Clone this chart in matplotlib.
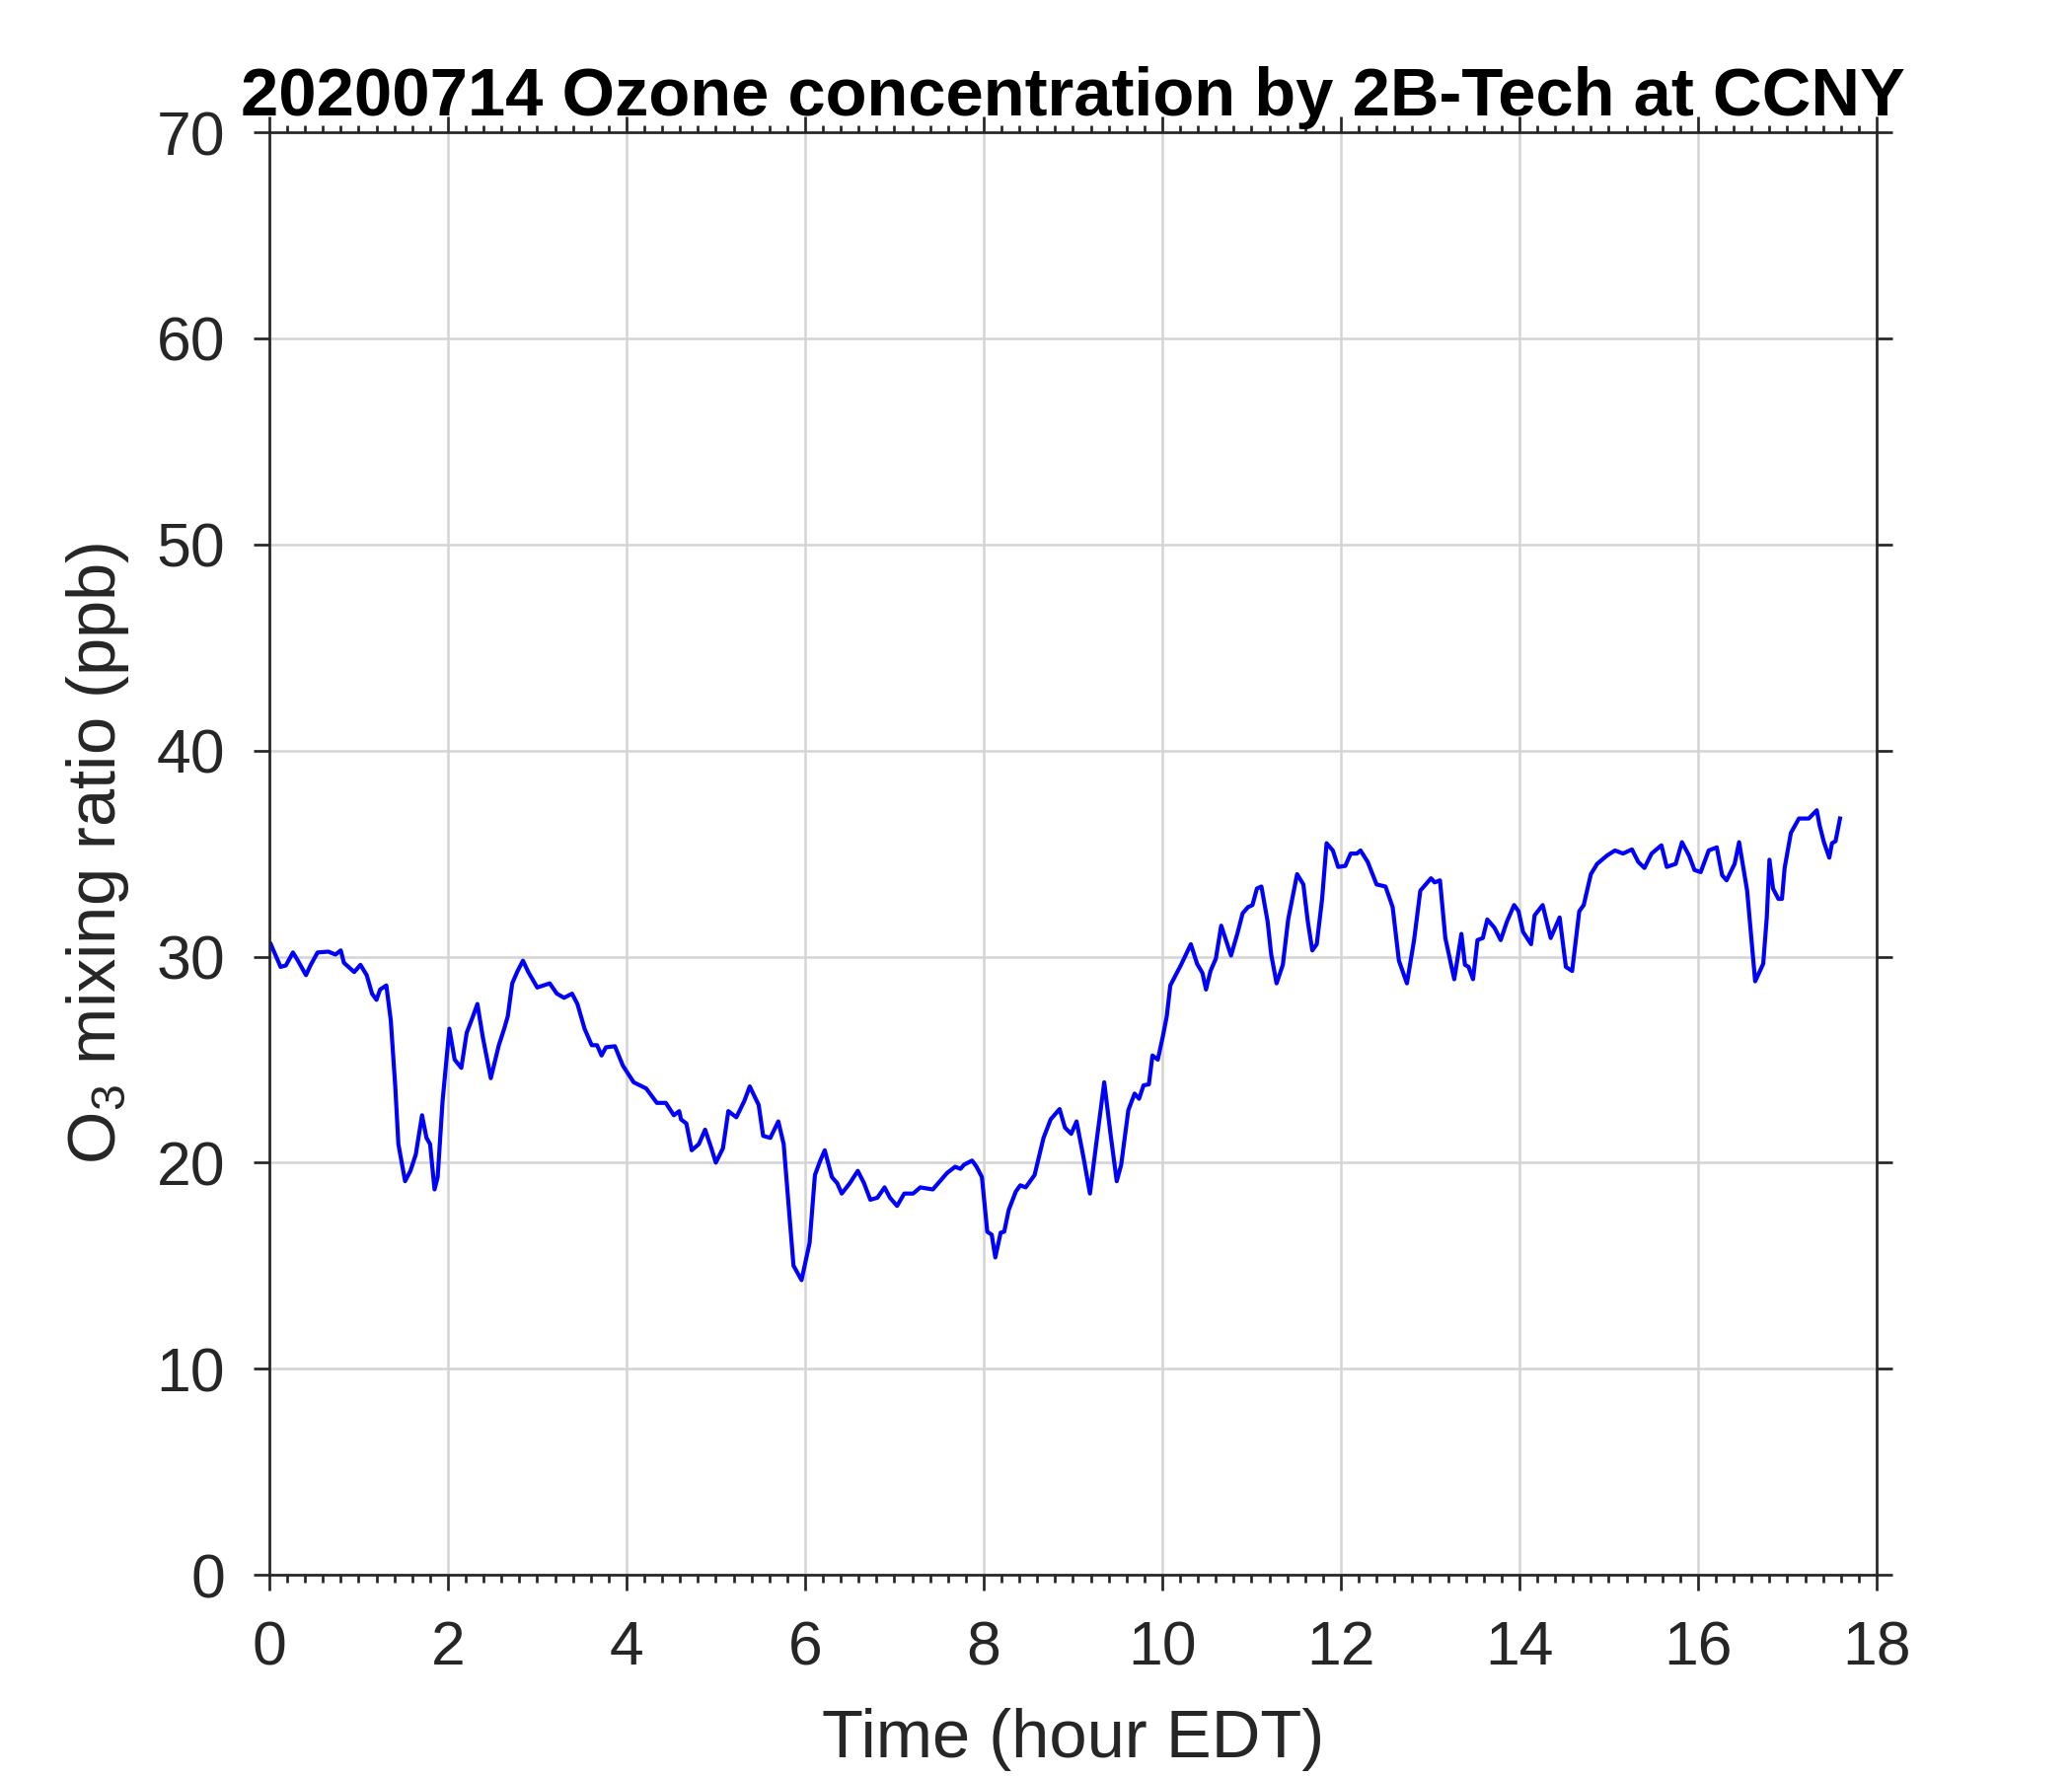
import matplotlib

matplotlib.use("Agg")
import matplotlib.pyplot as plt
from matplotlib.ticker import MultipleLocator

plt.rcParams["font.family"] = ["Liberation Sans", "DejaVu Sans"]
plt.rcParams["mathtext.fontset"] = "custom"
plt.rcParams["mathtext.rm"] = "Liberation Sans"
plt.rcParams["mathtext.it"] = "Liberation Sans"

TITLE = "20200714 Ozone concentration by 2B-Tech at CCNY"
XLABEL = "Time (hour EDT)"
YLABEL = r"O$_3$ mixing ratio (ppb)"

# (hours EDT, ppb)
hours = [
    0.016, 0.126, 0.185, 0.264, 0.32, 0.41, 0.46, 0.54, 0.66, 0.74, 0.80, 0.835,
    0.95, 1.02, 1.09, 1.15, 1.20, 1.24, 1.31, 1.36, 1.41, 1.445, 1.52, 1.58,
    1.64, 1.71, 1.76, 1.80, 1.85, 1.885, 1.94, 2.016, 2.075, 2.15, 2.21, 2.28,
    2.33, 2.39, 2.48, 2.57, 2.63, 2.67, 2.72, 2.78, 2.84, 2.90, 3.0, 3.14,
    3.22, 3.30, 3.39, 3.45, 3.53, 3.61, 3.67, 3.72, 3.77, 3.87, 3.96, 4.08,
    4.22, 4.34, 4.44, 4.53, 4.59, 4.61, 4.67, 4.73, 4.81, 4.88, 4.95, 5.0,
    5.08, 5.14, 5.23, 5.32, 5.38, 5.48, 5.53, 5.61, 5.70, 5.76, 5.81, 5.87,
    5.96, 6.05, 6.11, 6.17, 6.22, 6.30, 6.36, 6.41, 6.50, 6.59, 6.66, 6.73,
    6.81, 6.89, 6.95, 7.03, 7.11, 7.21, 7.29, 7.43, 7.49, 7.59, 7.68, 7.74,
    7.78, 7.87, 7.92, 7.98, 8.04, 8.09, 8.13, 8.19, 8.23, 8.28, 8.36, 8.41,
    8.47, 8.57, 8.67, 8.75, 8.85, 8.91, 8.98, 9.04, 9.12, 9.19, 9.26, 9.35,
    9.42, 9.49, 9.54, 9.62, 9.69, 9.74, 9.79, 9.85, 9.89, 9.95, 10.01, 10.05,
    10.09, 10.15, 10.21, 10.32, 10.39, 10.45, 10.49, 10.54, 10.60, 10.66, 10.77, 10.84,
    10.90, 10.96, 11.01, 11.06, 11.11, 11.18, 11.22, 11.28, 11.35, 11.41, 11.51, 11.58,
    11.63, 11.68, 11.73, 11.79, 11.84, 11.91, 11.97, 12.05, 12.11, 12.18, 12.22, 12.30,
    12.40, 12.50, 12.58, 12.65, 12.74, 12.82, 12.89, 13.01, 13.05, 13.11, 13.17, 13.27,
    13.35, 13.39, 13.43, 13.48, 13.53, 13.59, 13.64, 13.72, 13.79, 13.86, 13.94, 13.99,
    14.04, 14.13, 14.17, 14.26, 14.35, 14.45, 14.52, 14.59, 14.67, 14.72, 14.80, 14.87,
    14.98, 15.07, 15.16, 15.26, 15.33, 15.40, 15.48, 15.59, 15.65, 15.75, 15.82, 15.90,
    15.96, 16.03, 16.12, 16.21, 16.27, 16.32, 16.41, 16.46, 16.55, 16.64, 16.73, 16.77,
    16.80, 16.84, 16.90, 16.94, 16.97, 17.04, 17.13, 17.24, 17.33, 17.36, 17.41, 17.47,
    17.50, 17.54, 17.59,
]
ozone = [
    30.6, 29.5, 29.57, 30.2, 29.8, 29.1, 29.57, 30.2, 30.24, 30.1, 30.3, 29.7,
    29.25, 29.6, 29.1, 28.2, 27.9, 28.4, 28.6, 26.9, 23.7, 20.9, 19.1, 19.6,
    20.4, 22.3, 21.2, 20.9, 18.7, 19.3, 23.0, 26.5, 25.0, 24.6, 26.3, 27.1,
    27.7, 26.1, 24.1, 25.7, 26.5, 27.1, 28.7, 29.3, 29.8, 29.25, 28.5, 28.7,
    28.2, 28.0, 28.2, 27.7, 26.5, 25.7, 25.7, 25.2, 25.6, 25.65, 24.7, 23.9,
    23.6, 22.9, 22.9, 22.3, 22.5, 22.1, 21.9, 20.6, 20.9, 21.6, 20.7, 20.0,
    20.7, 22.5, 22.2, 23.0, 23.7, 22.8, 21.3, 21.2, 22.0, 20.9, 18.2, 15.0,
    14.3, 16.1, 19.4, 20.1, 20.6, 19.3, 19.0, 18.5, 19.0, 19.6, 19.0, 18.2,
    18.3, 18.8, 18.3, 17.9, 18.5, 18.5, 18.8, 18.7, 19.0, 19.5, 19.8, 19.7,
    19.9, 20.1, 19.8, 19.3, 16.65, 16.5, 15.4, 16.6, 16.65, 17.7, 18.6, 18.9,
    18.8, 19.4, 21.2, 22.1, 22.6, 21.7, 21.4, 22.0, 20.2, 18.5, 20.9, 23.9,
    21.4, 19.1, 19.9, 22.55, 23.35, 23.1, 23.75, 23.8, 25.2, 25.0, 26.2, 27.1,
    28.6, 29.1, 29.6, 30.6, 29.65, 29.2, 28.4, 29.3, 29.9, 31.5, 30.05, 31.1,
    32.1, 32.4, 32.5, 33.3, 33.4, 31.7, 30.1, 28.7, 29.6, 31.8, 34.0, 33.5,
    31.7, 30.3, 30.6, 32.8, 35.5, 35.15, 34.35, 34.4, 35.0, 35.0, 35.15, 34.6,
    33.5, 33.4, 32.4, 29.8, 28.7, 30.8, 33.2, 33.8, 33.6, 33.7, 30.9, 28.9,
    31.1, 29.6, 29.5, 28.9, 30.8, 30.9, 31.8, 31.4, 30.8, 31.7, 32.5, 32.2,
    31.2, 30.6, 32.0, 32.5, 30.9, 31.9, 29.5, 29.3, 32.2, 32.5, 34.0, 34.5,
    34.9, 35.15, 35.0, 35.2, 34.6, 34.3, 35.0, 35.4, 34.35, 34.5, 35.55, 34.9,
    34.2, 34.1, 35.15, 35.3, 33.95, 33.7, 34.5, 35.55, 33.2, 28.8, 29.65, 31.9,
    34.7, 33.3, 32.8, 32.8, 34.3, 36.0, 36.7, 36.7, 37.1, 36.4, 35.55, 34.8,
    35.5, 35.6, 36.7,
]

fig = plt.figure(figsize=(7, 6), dpi=300)
ax = fig.add_axes([0.13, 0.1133, 0.7757, 0.8122])

ax.plot(hours, ozone, color="#0000ff", linewidth=1.0)

ax.set_xlim(0, 18)
ax.set_ylim(0, 70)
ax.xaxis.set_major_locator(MultipleLocator(2))
ax.xaxis.set_minor_locator(MultipleLocator(0.2))
ax.yaxis.set_major_locator(MultipleLocator(10))

ax.grid(True, which="major", color="#d4d4d4", linewidth=0.6)
ax.set_axisbelow(True)

dark = "#262626"
for sp in ax.spines.values():
    sp.set_color(dark)
    sp.set_linewidth(0.65)
ax.tick_params(which="both", direction="out", top=True, right=True,
               color=dark, width=0.65, labelcolor=dark, labelsize=15)
ax.tick_params(which="major", length=3.8, pad=7)
ax.tick_params(which="minor", length=1.8)
ax.tick_params(axis="y", which="minor", left=False, right=False)

ax.set_xlabel(XLABEL, fontsize=16.5, color=dark, labelpad=7.5)
ax.set_ylabel(YLABEL, fontsize=16.5, color=dark, labelpad=6)
ax.set_title(TITLE, fontsize=16.5, fontweight="bold", color="black", pad=4)

fig.savefig("out.png", dpi=300)
